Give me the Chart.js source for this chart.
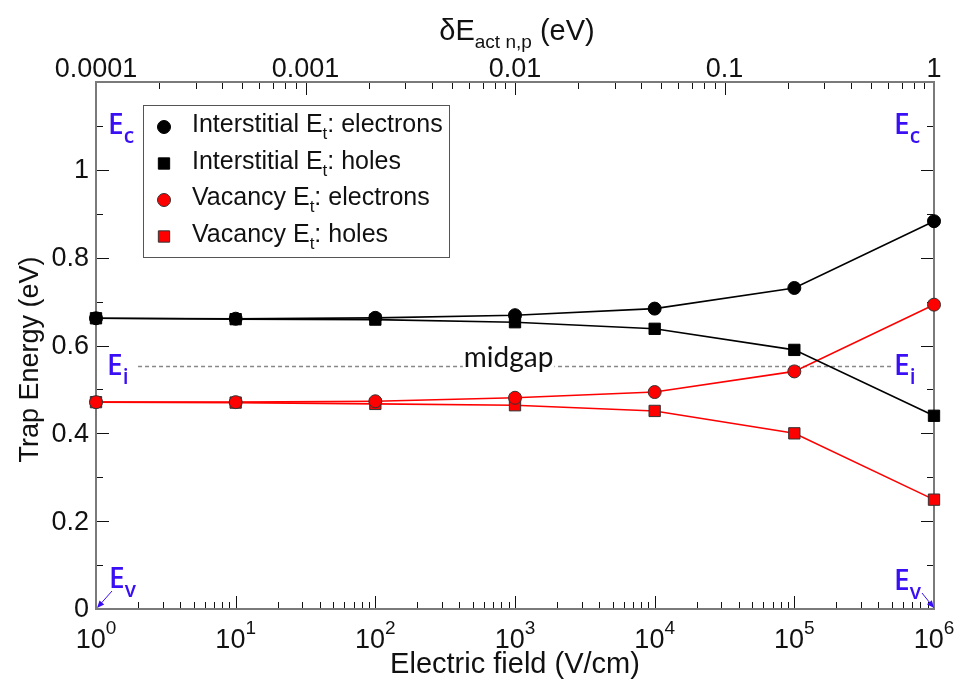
<!DOCTYPE html>
<html>
<head>
<meta charset="utf-8">
<title>Trap energy vs electric field</title>
<script src="https://cdn.jsdelivr.net/npm/chart.js@4.4.0/dist/chart.umd.min.js"></script>
<style>
  html, body { margin: 0; padding: 0; background: #fff; }
  #wrap { width: 960px; height: 684px; }
</style>
</head>
<body>
<div id="wrap"><canvas id="trapChart" width="960" height="684"></canvas></div>
<script>
// Electric field (V/cm) shared by all series
const fieldValues = [1, 10, 100, 1e3, 1e4, 1e5, 1e6];

// Trap energy (eV, measured from Ev)
const interstitialElectrons = [0.662, 0.661, 0.663, 0.669, 0.684, 0.731, 0.883];
const interstitialHoles = [0.662, 0.660, 0.659, 0.653, 0.638, 0.590, 0.440];
const vacancyElectrons = [0.471, 0.471, 0.473, 0.481, 0.494, 0.541, 0.693];
const vacancyHoles = [0.471, 0.470, 0.467, 0.464, 0.451, 0.400, 0.249];

// dashed midgap reference
const midgapField = [2, 5e5];
const midgapEnergy = [0.552, 0.552];

// axis ticks
const fieldTicks = [1, 10, 100, 1e3, 1e4, 1e5, 1e6];
const fieldExponents = ['0', '1', '2', '3', '4', '5', '6'];
const deltaTicks = [1e-4, 1e-3, 1e-2, 1e-1, 1];
const deltaLabels = ['0.0001', '0.001', '0.01', '0.1', '1'];
const energyTicks = [0, 0.2, 0.4, 0.6, 0.8, 1];
const energyLabels = ['0', '0.2', '0.4', '0.6', '0.8', '1'];

const seriesNames = ['Interstitial', 'Interstitial', 'Vacancy', 'Vacancy'];
const seriesCarriers = ['electrons', 'holes', 'electrons', 'holes'];

const FONT = '"Liberation Sans", Arial, sans-serif';
const NOTE_FONT = 'Lato, "Open Sans", sans-serif';
const BAND_FONT = '"Open Sans", Lato, sans-serif';
const BAND_BLUE = '#3a0ff5';

function toPoints(values) {
  return values.map((v, i) => ({ x: fieldValues[i], y: v }));
}

// text made of pieces with their own size / vertical offset (sub- and superscripts)
function drawRich(ctx, parts, x, y, align, family, weight) {
  const fam = family || FONT;
  const w8 = weight ? weight + ' ' : '';
  let total = 0;
  parts.forEach((p) => {
    ctx.font = w8 + p.size + 'px ' + fam;
    p.w = ctx.measureText(p.text).width;
    total += p.w;
  });
  let cx = x;
  if (align === 'center') cx = x - total / 2;
  if (align === 'right') cx = x - total;
  ctx.textAlign = 'left';
  ctx.textBaseline = 'alphabetic';
  parts.forEach((p) => {
    ctx.font = w8 + p.size + 'px ' + fam;
    ctx.fillText(p.text, cx, y + (p.dy || 0));
    cx += p.w;
  });
  return total;
}

// every log tick between min and max, flagged major on each decade
function logTicks(exponentMin, exponentMax) {
  const out = [];
  for (let e = exponentMin; e < exponentMax; e++) {
    for (let k = 1; k < 10; k++) out.push({ v: k * Math.pow(10, e), major: k === 1 });
  }
  out.push({ v: Math.pow(10, exponentMax), major: true });
  return out;
}

function arrow(ctx, x1, y1, x2, y2) {
  const a = Math.atan2(y2 - y1, x2 - x1);
  ctx.beginPath();
  ctx.moveTo(x1, y1);
  ctx.lineTo(x2 - 5 * Math.cos(a), y2 - 5 * Math.sin(a));
  ctx.stroke();
  ctx.beginPath();
  ctx.moveTo(x2, y2);
  ctx.lineTo(x2 - 8 * Math.cos(a - 0.4), y2 - 8 * Math.sin(a - 0.4));
  ctx.lineTo(x2 - 8 * Math.cos(a + 0.4), y2 - 8 * Math.sin(a + 0.4));
  ctx.closePath();
  ctx.fill();
}

const axesPlugin = {
  id: 'graceAxes',
  beforeDatasetsDraw(chart) {
    const { ctx, chartArea: area, scales } = chart;
    const { left, right, top, bottom } = area;
    ctx.save();

    // tick marks point into the plot
    ctx.strokeStyle = '#111';
    ctx.lineWidth = 1;
    ctx.beginPath();
    for (let i = 0; i <= 12; i++) {
      const y = Math.round(scales.y.getPixelForValue(i / 10)) + 0.5;
      const len = i % 2 === 0 ? 13 : 7;
      ctx.moveTo(left, y); ctx.lineTo(left + len, y);
      ctx.moveTo(right, y); ctx.lineTo(right - len, y);
    }
    logTicks(0, 6).forEach((t) => {
      const x = Math.round(scales.x.getPixelForValue(t.v)) + 0.5;
      ctx.moveTo(x, bottom); ctx.lineTo(x, bottom - (t.major ? 13 : 7));
    });
    logTicks(-4, 0).forEach((t) => {
      const x = Math.round(scales.xTop.getPixelForValue(t.v)) + 0.5;
      ctx.moveTo(x, top); ctx.lineTo(x, top + (t.major ? 13 : 7));
    });
    ctx.stroke();

    // frame
    ctx.strokeStyle = '#7a7a7a';
    ctx.lineWidth = 2;
    ctx.strokeRect(left, top, right - left, bottom - top);

    // tick labels
    ctx.fillStyle = '#111';
    ctx.font = '27px ' + FONT;
    ctx.textAlign = 'right';
    ctx.textBaseline = 'middle';
    energyTicks.forEach((v, i) => {
      ctx.fillText(energyLabels[i], left - 7, scales.y.getPixelForValue(v) + 1);
    });
    ctx.textAlign = 'center';
    ctx.textBaseline = 'alphabetic';
    deltaTicks.forEach((v, i) => {
      ctx.fillText(deltaLabels[i], scales.xTop.getPixelForValue(v), top - 5);
    });
    fieldTicks.forEach((v, i) => {
      drawRich(ctx, [
        { text: '10', size: 27 },
        { text: fieldExponents[i], size: 19, dy: -14 }
      ], scales.x.getPixelForValue(v), bottom + 39, 'center');
    });

    // axis titles
    ctx.textAlign = 'center';
    ctx.font = '29px ' + FONT;
    ctx.fillText('Electric field (V/cm)', (left + right) / 2, 673);
    drawRich(ctx, [
      { text: '\u03b4E', size: 29 },
      { text: 'act n,p', size: 19, dy: 8 },
      { text: ' (eV)', size: 29 }
    ], (left + right) / 2 + 2, 40, 'center');
    ctx.save();
    ctx.translate(38, (top + bottom) / 2 + 14);
    ctx.rotate(-Math.PI / 2);
    ctx.textAlign = 'center';
    ctx.font = '27px ' + FONT;
    ctx.fillText('Trap Energy (eV)', 0, 0);
    ctx.restore();

    ctx.restore();
  },
  afterDatasetsDraw(chart) {
    const { ctx, chartArea: area, scales } = chart;
    const { left, right, bottom } = area;
    ctx.save();

    // midgap caption sits over the dashed line
    const my = scales.y.getPixelForValue(midgapEnergy[0]);
    ctx.font = '28px ' + NOTE_FONT;
    const mw = ctx.measureText('midgap').width;
    const mx = scales.x.getPixelForValue(900);
    ctx.fillStyle = '#fff';
    ctx.fillRect(mx - mw / 2 - 1, my - 3, mw + 2, 5);
    ctx.fillStyle = '#111';
    ctx.textAlign = 'center';
    ctx.fillText('midgap', mx, my);

    // band edge labels
    ctx.fillStyle = BAND_BLUE;
    ctx.strokeStyle = BAND_BLUE;
    ctx.lineWidth = 1;
    const band = (sub, x, y) => drawRich(ctx, [
      { text: 'E', size: 28 },
      { text: sub, size: 21, dy: 9 }
    ], x, y, 'left', BAND_FONT, '600');
    band('c', left + 12, 134);
    band('c', right - 40, 134);
    band('i', left + 11, my + 8);
    band('i', right - 40, my + 8);
    band('v', left + 13, 588);
    band('v', right - 40, 590);
    arrow(ctx, left + 16, 591, left + 1, bottom - 1);
    arrow(ctx, right - 12, 593, right, bottom - 1);

    // legend box
    const lx = 143, ly = 105, lw = 306, lh = 152;
    ctx.fillStyle = '#fff';
    ctx.fillRect(lx, ly, lw, lh);
    ctx.strokeStyle = '#555';
    ctx.lineWidth = 1;
    ctx.strokeRect(lx + 0.5, ly + 0.5, lw, lh);
    chart.data.datasets.slice(0, 4).forEach((ds, i) => {
      const cy = 127 + i * 36.5;
      ctx.fillStyle = ds.pointBackgroundColor;
      ctx.strokeStyle = ds.pointBorderColor;
      ctx.lineWidth = 1;
      Chart.helpers.drawPoint(ctx, {
        pointStyle: ds.pointStyle, radius: ds.pointRadius, rotation: 0, borderWidth: 1
      }, 164, cy);
      ctx.fillStyle = '#111';
      drawRich(ctx, [
        { text: seriesNames[i] + ' E', size: 25 },
        { text: 't', size: 17, dy: 7 },
        { text: ': ' + seriesCarriers[i], size: 25 }
      ], 192, cy + 5, 'left');
    });

    ctx.restore();
  }
};

const markerCommon = { borderWidth: 1.6, pointBorderWidth: 1, clip: false, showLine: true, tension: 0 };

new Chart(document.getElementById('trapChart'), {
  type: 'scatter',
  data: {
    datasets: [
      Object.assign({
        label: 'Interstitial Et: electrons', data: toPoints(interstitialElectrons),
        borderColor: '#000', pointBackgroundColor: '#000', pointBorderColor: '#000',
        pointStyle: 'circle', pointRadius: 6.5
      }, markerCommon),
      Object.assign({
        label: 'Interstitial Et: holes', data: toPoints(interstitialHoles),
        borderColor: '#000', pointBackgroundColor: '#000', pointBorderColor: '#000',
        pointStyle: 'rect', pointRadius: 8
      }, markerCommon),
      Object.assign({
        label: 'Vacancy Et: electrons', data: toPoints(vacancyElectrons),
        borderColor: '#ff0000', pointBackgroundColor: '#ff0000', pointBorderColor: '#333',
        pointStyle: 'circle', pointRadius: 6.5
      }, markerCommon),
      Object.assign({
        label: 'Vacancy Et: holes', data: toPoints(vacancyHoles),
        borderColor: '#ff0000', pointBackgroundColor: '#ff0000', pointBorderColor: '#333',
        pointStyle: 'rect', pointRadius: 8
      }, markerCommon),
      {
        label: 'midgap', data: midgapField.map((x, i) => ({ x, y: midgapEnergy[i] })),
        showLine: true, borderColor: '#888', borderWidth: 1.5, borderDash: [4, 3],
        pointRadius: 0, clip: false
      }
    ]
  },
  options: {
    responsive: false,
    animation: false,
    devicePixelRatio: 1,
    layout: { padding: { left: 96, top: 82, right: 26, bottom: 75 } },
    plugins: { legend: { display: false }, tooltip: { enabled: false } },
    scales: {
      x: { type: 'logarithmic', min: 1, max: 1e6, display: false },
      xTop: { type: 'logarithmic', position: 'top', min: 1e-4, max: 1, display: false },
      y: { type: 'linear', min: 0, max: 1.2, display: false }
    }
  },
  plugins: [axesPlugin]
});
</script>
</body>
</html>
